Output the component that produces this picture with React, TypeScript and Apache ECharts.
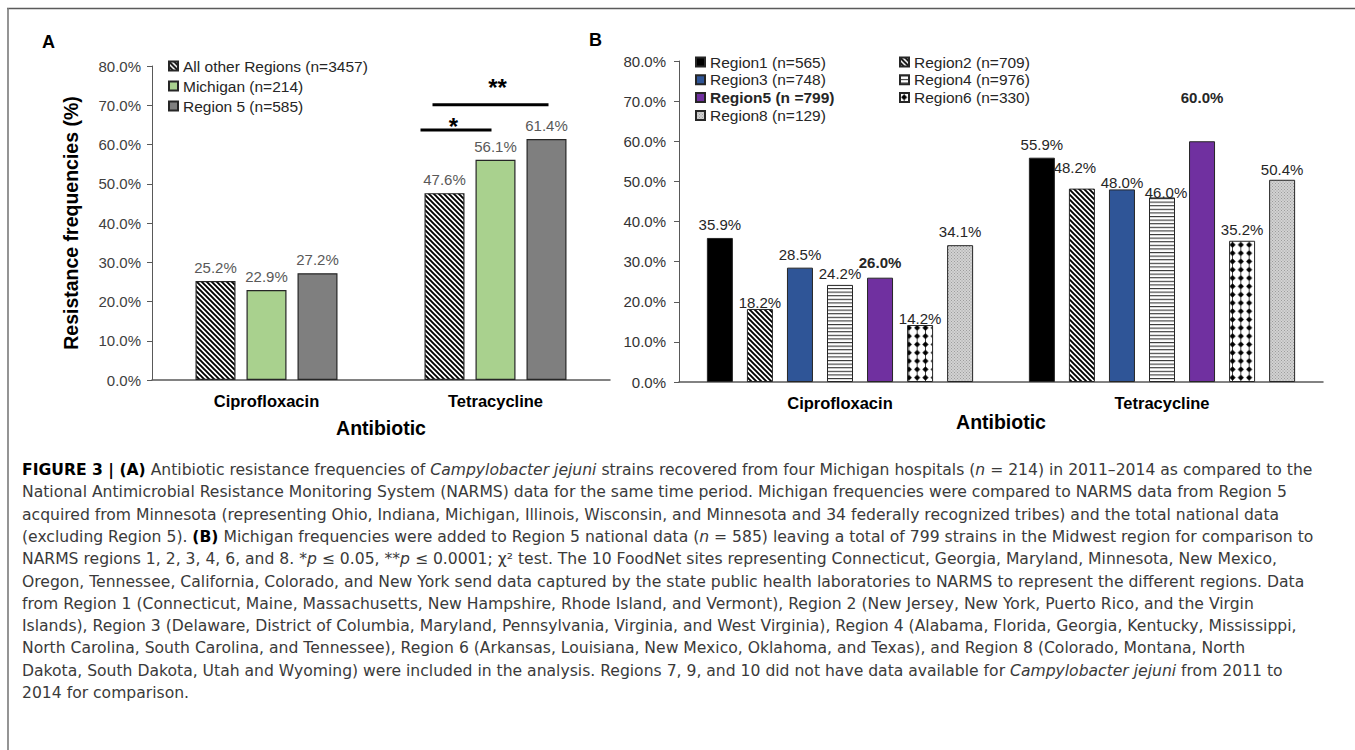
import React, { useEffect, useRef } from "react";
import * as echarts from "echarts";

// ---------------- data ----------------
const categories = ["Ciprofloxacin", "Tetracycline"];

const seriesANames = ["All other Regions (n=3457)", "Michigan (n=214)", "Region 5 (n=585)"];
const allOtherRegions = [25.2, 47.6];
const michigan = [22.9, 56.1];
const region5A = [27.2, 61.4];

const seriesBNames = [
  "Region1 (n=565)",
  "Region2 (n=709)",
  "Region3 (n=748)",
  "Region4 (n=976)",
  "Region5 (n =799)",
  "Region6 (n=330)",
  "Region8 (n=129)",
];
const region1 = [35.9, 55.9];
const region2 = [18.2, 48.2];
const region3 = [28.5, 48.0];
const region4 = [24.2, 46.0];
const region5B = [26.0, 60.0];
const region6 = [14.2, 35.2];
const region8 = [34.1, 50.4];

const yMin = 0;
const yMax = 80;
const yInterval = 10;

const captionLines = [
  "{b|FIGURE 3 | (A)} Antibiotic resistance frequencies of {i|Campylobacter jejuni} strains recovered from four Michigan hospitals ({i|n} = 214) in 2011–2014 as compared to the",
  "National Antimicrobial Resistance Monitoring System (NARMS) data for the same time period. Michigan frequencies were compared to NARMS data from Region 5",
  "acquired from Minnesota (representing Ohio, Indiana, Michigan, Illinois, Wisconsin, and Minnesota and 34 federally recognized tribes) and the total national data",
  "(excluding Region 5). {b|(B)} Michigan frequencies were added to Region 5 national data ({i|n} = 585) leaving a total of 799 strains in the Midwest region for comparison to",
  "NARMS regions 1, 2, 3, 4, 6, and 8. *{i|p} ≤ 0.05, **{i|p} ≤ 0.0001; χ² test. The 10 FoodNet sites representing Connecticut, Georgia, Maryland, Minnesota, New Mexico,",
  "Oregon, Tennessee, California, Colorado, and New York send data captured by the state public health laboratories to NARMS to represent the different regions. Data",
  "from Region 1 (Connecticut, Maine, Massachusetts, New Hampshire, Rhode Island, and Vermont), Region 2 (New Jersey, New York, Puerto Rico, and the Virgin",
  "Islands), Region 3 (Delaware, District of Columbia, Maryland, Pennsylvania, Virginia, and West Virginia), Region 4 (Alabama, Florida, Georgia, Kentucky, Mississippi,",
  "North Carolina, South Carolina, and Tennessee), Region 6 (Arkansas, Louisiana, New Mexico, Oklahoma, and Texas), and Region 8 (Colorado, Montana, North",
  "Dakota, South Dakota, Utah and Wyoming) were included in the analysis. Regions 7, 9, and 10 did not have data available for {i|Campylobacter jejuni} from 2011 to",
  "2014 for comparison.",
];

// ---------------- styling helpers ----------------
const FONT = "'Liberation Sans', Arial, Helvetica, sans-serif";
const CAPTION_FONT = "'DejaVu Sans', sans-serif";
const CAPTION_SIZE = 15.6;

function pat(svg: string, w: number, h: number) {
  return {
    image: "data:image/svg+xml;charset=utf-8," + encodeURIComponent(svg),
    repeat: "repeat",
    imageWidth: w,
    imageHeight: h,
  } as any;
}
const NS = 'xmlns="http://www.w3.org/2000/svg"';
const hatchPattern = pat(
  `<svg ${NS} width="5" height="5"><rect width="5" height="5" fill="#fff"/><path d="M0 0L5 5M-1 4L1 6M4 -1L6 1" stroke="#000" stroke-width="1.9"/></svg>`,
  5,
  5
);
const hlinePattern = pat(
  `<svg ${NS} width="4" height="3.6"><rect width="4" height="3.6" fill="#fff"/><rect y="0" width="4" height="1.1" fill="#333"/></svg>`,
  4,
  3.6
);
const diamondPattern = pat(
  `<svg ${NS} width="8.3" height="8.3"><rect width="8.3" height="8.3" fill="#fff"/><line x1="4.15" y1="0" x2="4.15" y2="8.3" stroke="#000" stroke-width="0.7"/><path d="M4.15 1.1L7.2 4.15L4.15 7.2L1.1 4.15Z" fill="#000"/></svg>`,
  8.3,
  8.3
);
const grayDotPattern = pat(
  `<svg ${NS} width="3" height="3"><rect width="3" height="3" fill="#d2d2d2"/><rect x="0" y="0" width="1" height="1" fill="#9c9c9c"/><rect x="1.5" y="1.5" width="1" height="1" fill="#9c9c9c"/></svg>`,
  3,
  3
);

const pct = (v: number) => v.toFixed(1) + "%";

// per-label nudges for panel B (series index -> category index -> [dx, dy])
const labelNudgeB: Record<number, Record<number, [number, number]>> = {
  1: { 0: [0, 7], 1: [-7, -8] },
  2: { 1: [0, 7] },
  3: { 0: [0, 2], 1: [4, 9] },
  4: { 0: [0, -2], 1: [0, -30] },
  5: { 0: [0, 7], 1: [0, 2] },
  6: { 1: [0, 3] },
};

export default function App() {
  const ref = useRef<HTMLDivElement>(null);

  useEffect(() => {
    const chart = echarts.init(ref.current!, null, { renderer: "svg" });

    const valueAxis = (gridIndex: number, extra: any) => ({
      gridIndex,
      type: "value",
      min: yMin,
      max: yMax,
      interval: yInterval,
      splitLine: { show: false },
      axisLine: { show: true, lineStyle: { color: "#595959", width: 1 } },
      axisTick: { show: true, length: 5, lineStyle: { color: "#595959" } },
      ...extra,
    });
    const catAxis = (gridIndex: number, nameGap: number) => ({
      gridIndex,
      type: "category",
      data: categories,
      axisTick: { show: false },
      axisLine: { lineStyle: { color: "#595959", width: 1.5 } },
      axisLabel: { fontWeight: "bold", fontSize: 16.5, color: "#000", margin: 12, fontFamily: FONT },
      name: "Antibiotic",
      nameLocation: "middle",
      nameGap,
      nameTextStyle: { fontWeight: "bold", fontSize: 19.5, color: "#000", fontFamily: FONT },
    });

    const barA = (name: string, data: number[], color: any) => ({
      type: "bar",
      name,
      xAxisIndex: 0,
      yAxisIndex: 0,
      data,
      barWidth: 40,
      barGap: "27.5%",
      itemStyle: { color, borderColor: "#262626", borderWidth: 1.2 },
      label: {
        show: true,
        position: "top",
        distance: 6,
        formatter: (p: any) => pct(p.value),
        fontSize: 15,
        color: "#595959",
        fontFamily: FONT,
      },
    });

    const bSeriesDefs: [number[], any, boolean][] = [
      [region1, "#000000", false],
      [region2, hatchPattern, false],
      [region3, "#2F5597", false],
      [region4, hlinePattern, false],
      [region5B, "#7030A0", true],
      [region6, diamondPattern, false],
      [region8, grayDotPattern, false],
    ];
    const barB = bSeriesDefs.map(([vals, color, bold], si) => ({
      type: "bar",
      name: seriesBNames[si],
      xAxisIndex: 1,
      yAxisIndex: 1,
      data: vals.map((v, ci) => {
        const nudge = labelNudgeB[si] && labelNudgeB[si][ci];
        return nudge ? { value: v, label: { offset: nudge } } : { value: v };
      }),
      barWidth: 26,
      barGap: "54%",
      itemStyle: { color, borderColor: "#262626", borderWidth: 1 },
      label: {
        show: true,
        position: "top",
        distance: 6,
        formatter: (p: any) => pct(p.value),
        fontSize: 15,
        color: "#262626",
        fontWeight: bold ? "bold" : "normal",
        fontFamily: FONT,
      },
    }));

    const legendCommon = {
      orient: "vertical",
      padding: 0,
      itemWidth: 9,
      itemHeight: 9,
      icon: "rect",
      selectedMode: false,
      textStyle: { fontSize: 15.5, color: "#262626", fontFamily: FONT },
    };

    chart.setOption({
      animation: false,
      backgroundColor: "#ffffff",
      textStyle: { fontFamily: FONT },
      grid: [
        { left: 152, top: 66, width: 458, height: 314 },
        { left: 679, top: 61, width: 644, height: 321 },
      ],
      xAxis: [catAxis(0, 38), catAxis(1, 28)],
      yAxis: [
        valueAxis(0, {
          axisLabel: { formatter: (v: number) => pct(v), fontSize: 15, color: "#404040", margin: 11, fontFamily: FONT },
          name: "Resistance frequencies (%)",
          nameLocation: "middle",
          nameGap: 71,
          nameRotate: 90,
          nameTextStyle: { fontWeight: "bold", fontSize: 19.5, color: "#000", fontFamily: FONT },
        }),
        valueAxis(1, {
          axisLabel: { formatter: (v: number) => pct(v), fontSize: 15, color: "#333", margin: 13, fontFamily: FONT },
        }),
      ],
      legend: [
        { ...legendCommon, left: 168, top: 58, itemGap: 4, data: seriesANames },
        {
          ...legendCommon,
          left: 695,
          top: 54,
          itemGap: 1.8,
          data: [
            seriesBNames[0],
            seriesBNames[2],
            { name: seriesBNames[4], textStyle: { fontWeight: "bold" } },
            seriesBNames[6],
          ],
        },
        {
          ...legendCommon,
          left: 899,
          top: 54,
          itemGap: 1.8,
          data: [seriesBNames[1], seriesBNames[3], seriesBNames[5]],
        },
      ],
      series: [
        barA(seriesANames[0], allOtherRegions, hatchPattern),
        barA(seriesANames[1], michigan, "#A9D18E"),
        barA(seriesANames[2], region5A, "#7F7F7F"),
        ...barB,
      ],
    });

    // significance annotations, anchored to the Tetracycline group of panel A
    const sig = [
      { text: "*", lineVal: 63.7, from: -75, to: -4, textVal: 64.6, dx: -42 },
      { text: "**", lineVal: 70.1, from: -63, to: 53, textVal: 74.5, dx: 2 },
    ];
    const sigGraphics: any[] = [];
    sig.forEach((s) => {
      const pLine = chart.convertToPixel({ seriesIndex: 0 }, [1, s.lineVal]) as number[];
      const pText = chart.convertToPixel({ seriesIndex: 0 }, [1, s.textVal]) as number[];
      sigGraphics.push({
        type: "line",
        shape: { x1: pLine[0] + s.from, y1: pLine[1], x2: pLine[0] + s.to, y2: pLine[1] },
        style: { stroke: "#000", lineWidth: 3 },
      });
      sigGraphics.push({
        type: "text",
        x: pText[0] + s.dx,
        y: pText[1],
        style: {
          text: s.text,
          fontSize: 24,
          fontWeight: "bold",
          fontFamily: FONT,
          fill: "#000",
          align: "center",
          verticalAlign: "middle",
        },
      });
    });

    const captionGraphics = captionLines.map((line, i) => ({
      type: "text",
      x: 22,
      y: 470 + i * 22.3,
      style: {
        text: line,
        fontSize: CAPTION_SIZE,
        fontFamily: CAPTION_FONT,
        fill: "#3a3a3a",
        verticalAlign: "middle",
        rich: {
          b: { fontSize: CAPTION_SIZE, fontFamily: CAPTION_FONT, fontWeight: "bold", fill: "#000" },
          i: { fontSize: CAPTION_SIZE, fontFamily: CAPTION_FONT, fontStyle: "italic", fill: "#3a3a3a" },
        },
      },
    }));

    chart.setOption({
      graphic: [
        { type: "line", shape: { x1: 7, y1: 8.5, x2: 1355, y2: 8.5 }, style: { stroke: "#5a5a5a", lineWidth: 1.6 } },
        { type: "line", shape: { x1: 8, y1: 8, x2: 8, y2: 750 }, style: { stroke: "#7a7a7a", lineWidth: 1.6 } },
        {
          type: "text",
          x: 42,
          y: 42,
          style: { text: "A", fontSize: 18, fontWeight: "bold", fontFamily: FONT, fill: "#000", verticalAlign: "middle" },
        },
        {
          type: "text",
          x: 589,
          y: 40,
          style: { text: "B", fontSize: 18, fontWeight: "bold", fontFamily: FONT, fill: "#000", verticalAlign: "middle" },
        },
        ...sigGraphics,
        ...captionGraphics,
      ],
    });

    return () => chart.dispose();
  }, []);

  return (
    <div
      ref={ref}
      style={{ position: "fixed", left: 0, top: 0, width: 1355, height: 750, background: "#fff" }}
    />
  );
}
